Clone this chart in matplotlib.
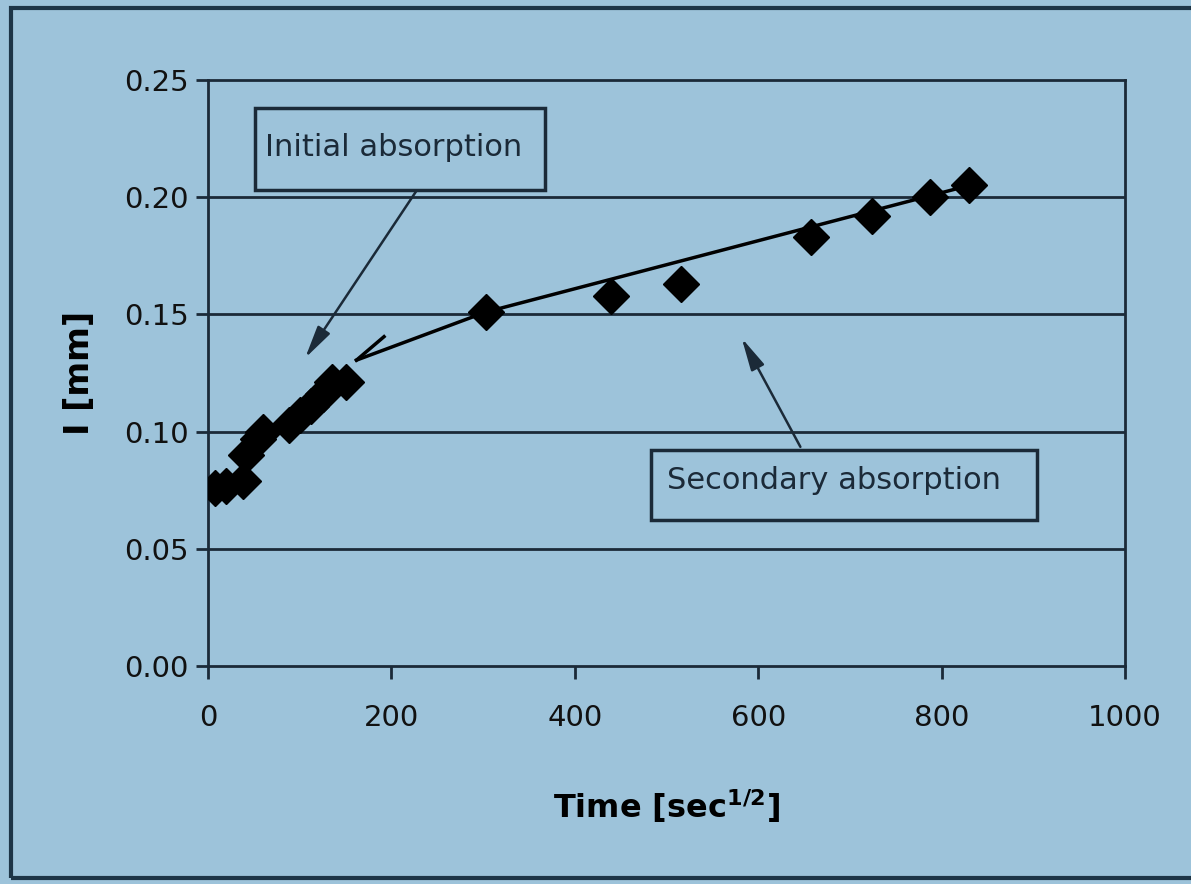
import numpy as np
import matplotlib.pyplot as plt
from matplotlib.patches import Rectangle

# Datos medidos (tiempo en sec^1/2, absorcion en mm)
time_pts = [8, 20, 38, 42, 55, 60, 88, 100, 112, 125, 135, 150,
            303, 440, 516, 658, 724, 787, 830]
absorb_pts = [0.076, 0.077, 0.079, 0.090, 0.097, 0.100, 0.103, 0.107, 0.111,
              0.116, 0.121, 0.121, 0.151, 0.158, 0.163, 0.183, 0.192, 0.200, 0.205]

# Recta de absorcion secundaria
fit_x = [162, 303, 830]
fit_y = [0.1305, 0.151, 0.205]

x_ticks = [0, 200, 400, 600, 800, 1000]
y_ticks = [0.00, 0.05, 0.10, 0.15, 0.20, 0.25]

bg = '#9dc3da'
dark = '#1b2a38'

fig = plt.figure(figsize=(11.91, 8.84), dpi=100, facecolor=bg)
ax = fig.add_axes([0.1746, 0.2466, 0.77, 0.6629])
ax.set_facecolor(bg)

for yt in y_ticks[1:-1]:
    ax.axhline(yt, color=dark, lw=2, zorder=1)

ax.plot(fit_x, fit_y, color='black', lw=2.5, zorder=2)
# barbilla de la flecha al inicio de la recta
ax.plot([fit_x[0], 192], [fit_y[0], 0.1405], color='black', lw=2.5, zorder=2)
ax.plot(time_pts, absorb_pts, linestyle='none', marker='D', ms=18,
        color='black', zorder=3)

ax.set_xlim(0, 1000)
ax.set_ylim(0, 0.25)
ax.set_xticks(x_ticks)
ax.set_yticks(y_ticks)
ax.set_yticklabels([f'{v:.2f}' for v in y_ticks])
ax.tick_params(axis='both', direction='out', length=9, width=2, colors=dark,
               labelsize=21, labelcolor='#111111')
ax.tick_params(axis='x', pad=18)
ax.tick_params(axis='y', pad=5)
for s in ax.spines.values():
    s.set_color(dark)
    s.set_linewidth(2)

ax.set_xlabel(r'Time [sec$^{\mathbf{1/2}}$]', fontsize=23, fontweight='bold', labelpad=40)
ax.set_ylabel('I [mm]', fontsize=24, fontweight='bold', labelpad=20)

# cuadros de texto con flechas
boxes = [
    ((0.0513, 0.8123), 0.3162, 0.1397, (0.0622, 0.884), 'Initial absorption'),
    ((0.4831, 0.2491), 0.4209, 0.1195, (0.5005, 0.3174), 'Secondary absorption'),
]
for (bx, by), bw, bh, (tx, ty), label in boxes:
    ax.add_patch(Rectangle((bx, by), bw, bh, transform=ax.transAxes,
                           fc=bg, ec=dark, lw=2.5, zorder=4))
    ax.text(tx, ty, label, transform=ax.transAxes, fontsize=22, color=dark,
            ha='left', va='center', zorder=5)

arrow_props = dict(arrowstyle='-|>,head_length=0.9,head_width=0.2', color=dark,
                   lw=1.8, mutation_scale=22, shrinkA=0, shrinkB=0)
ax.annotate('', xy=(106, 0.1314), xytext=(228, 0.2031), arrowprops=arrow_props, zorder=3)
ax.annotate('', xy=(582, 0.1399), xytext=(646, 0.0935), arrowprops=arrow_props, zorder=3)

# marco exterior
fig.patches.append(Rectangle((0.009, 0.007), 1.2, 0.984, transform=fig.transFigure,
                             fill=False, ec='#1d3547', lw=3))

fig.savefig('out.png', dpi=100, facecolor=bg)
